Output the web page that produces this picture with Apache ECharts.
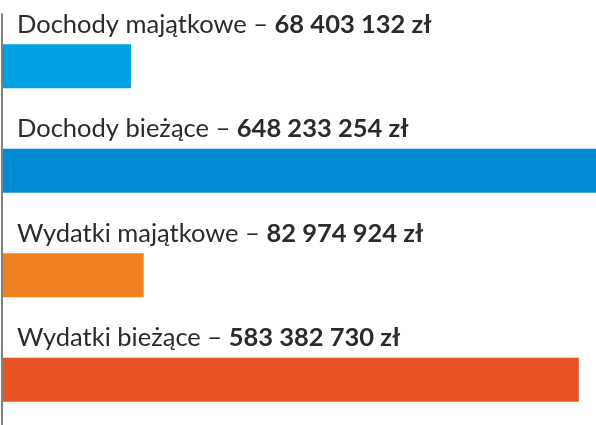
<!DOCTYPE html>
<html>
<head>
<meta charset="utf-8">
<script src="https://cdn.jsdelivr.net/npm/echarts@6/dist/echarts.min.js"></script>
<style>
  html, body { margin: 0; padding: 0; background: #fff; }
  #main { width: 596px; height: 425px; }
</style>
</head>
<body>
<div id="main"></div>
<script>
const categories = ['Dochody majątkowe', 'Dochody bieżące', 'Wydatki majątkowe', 'Wydatki bieżące'];
const values = [68403132, 648233254, 82974924, 583382730];
const barColors = ['#00a0e3', '#008bd2', '#f08221', '#e85324'];

// bars in the original are not drawn from zero, they start at an offset
const axisMin = -80e6;
const axisMax = 602e6;

function fmt(v) {
  return String(v).replace(/\B(?=(\d{3})+(?!\d))/g, ' ') + ' zł';
}

let chart = echarts.init(document.getElementById('main'));
chart.setOption({
  animation: false,
  grid: { left: 2, right: 1, top: 14, height: 418, containLabel: false, outerBoundsMode: 'none' },
  xAxis: {
    type: 'value', min: axisMin, max: axisMax,
    show: false
  },
  yAxis: {
    type: 'category', inverse: true, data: categories,
    axisLine: { show: true, onZero: false, lineStyle: { color: '#555', width: 1.5 } },
    axisTick: { show: false },
    axisLabel: { show: false }
  },
  series: [{
    type: 'custom',
    clip: false,
    data: values.map((v, i) => [v, i]),
    renderItem: function (params, api) {
      const cat = api.value(1);
      const start = api.coord([axisMin, cat]);
      const end = api.coord([api.value(0), cat]);
      const h = api.size([0, 1])[1] * 0.42;
      const top = end[1] - h / 2;
      return {
        type: 'group',
        children: [
          {
            type: 'rect',
            shape: { x: start[0] + 1, y: top, width: end[0] - start[0] - 1, height: h },
            style: { fill: barColors[params.dataIndex] }
          },
          {
            type: 'text',
            x: start[0] + 15,
            y: top - 7,
            style: {
              text: '{n|' + categories[params.dataIndex] + ' – }{v|' + fmt(values[params.dataIndex]) + '}',
              verticalAlign: 'bottom',
              rich: {
                n: { fontSize: 25.5, fontFamily: 'Lato', fill: '#2b2b2b' },
                v: { fontSize: 25.5, fontFamily: 'Lato', fontWeight: 'bold', fill: '#2b2b2b' }
              }
            }
          }
        ]
      };
    }
  }]
});
</script>
</body>
</html>
